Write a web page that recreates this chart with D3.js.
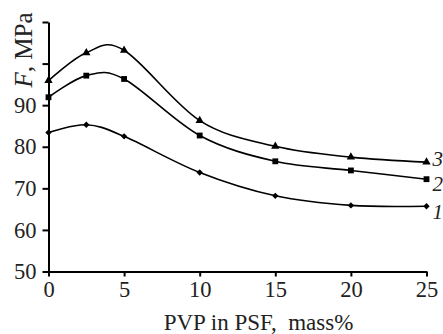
<!DOCTYPE html>
<html>
<head>
<meta charset="utf-8">
<script src="https://cdn.jsdelivr.net/npm/d3@7"></script>
<style>
  body { margin: 0; background: #fff; }
  svg { display: block; }
  svg text { font-family: "Liberation Serif", "DejaVu Serif", serif; fill: #222; }
  .axis path, .axis line { stroke: #000; stroke-width: 2px; }
  .axis text { font-size: 22.5px; }
  .line { fill: none; stroke: #000; stroke-width: 1.6px; }
</style>
</head>
<body>
<div id="chart"></div>
<script>
var pvp = [0, 2.5, 5, 10, 15, 20, 25];
var series1 = [83.4, 85.3, 82.5, 73.8, 68.2, 65.9, 65.7];
var series2 = [91.9, 97.1, 96.3, 82.7, 76.5, 74.3, 72.2];
var series3 = [95.9, 102.6, 103.2, 86.3, 80.1, 77.5, 76.3];
var seriesNames = ["1", "2", "3"];
var xTicks = [0, 5, 10, 15, 20, 25];
var yTicks = [50, 60, 70, 80, 90, 100, 110];

var W = 443, H = 334;
var margin = {top: 22, right: 16.5, bottom: 62.5, left: 48.5};
var width = W - margin.left - margin.right;
var height = H - margin.top - margin.bottom;

var x = d3.scaleLinear().domain([0, 25]).range([0, width]);
var y = d3.scaleLinear().domain([50, 110]).range([height, 0]);

var svg = d3.select("#chart").append("svg")
    .attr("width", W)
    .attr("height", H)
  .append("g")
    .attr("transform", "translate(" + margin.left + "," + margin.top + ")");

// axes
var xAxis = d3.axisBottom(x).tickValues(xTicks).tickSize(5).tickSizeOuter(0).tickPadding(5);
var yAxis = d3.axisLeft(y).tickValues(yTicks).tickSize(6).tickSizeOuter(0).tickPadding(6)
    .tickFormat(function(d) { return d <= 90 ? d : ""; });

svg.append("g")
    .attr("class", "x axis")
    .attr("transform", "translate(0," + height + ")")
    .call(xAxis)
    .attr("font-family", null)
    .selectAll("text").attr("fill", "#222");

svg.append("g")
    .attr("class", "y axis")
    .call(yAxis)
    .attr("font-family", null)
    .selectAll("text").attr("fill", "#222");

// series
var data = [series1, series2, series3].map(function(vals, i) {
  return vals.map(function(v, j) { return {x: pvp[j], y: v, s: i}; });
});

var line = d3.line()
    .curve(d3.curveCardinal.tension(0))
    .x(function(d) { return x(d.x); })
    .y(function(d) { return y(d.y); });

svg.selectAll(".line")
    .data(data)
  .enter().append("path")
    .attr("class", "line")
    .attr("d", line);

var symbols = [
  d3.symbol().type(d3.symbolDiamond2).size(26),
  d3.symbol().type(d3.symbolSquare).size(34),
  d3.symbol().type(d3.symbolTriangle).size(30)
];

data.forEach(function(pts, i) {
  svg.selectAll(".dot" + i)
      .data(pts)
    .enter().append("path")
      .attr("class", "dot" + i)
      .attr("transform", function(d) { return "translate(" + x(d.x) + "," + y(d.y) + ")"; })
      .attr("d", symbols[i])
      .attr("fill", "#000");
});

// series labels at line ends
var labelDy = [13, 12, 4];
data.forEach(function(pts, i) {
  var last = pts[pts.length - 1];
  svg.append("text")
      .attr("x", x(last.x) + 6)
      .attr("y", y(last.y) + labelDy[i])
      .attr("font-size", "21px")
      .attr("font-style", "italic")
      .text(seriesNames[i]);
});

// axis titles
svg.append("text")
    .attr("x", width / 2 + 21)
    .attr("y", height + 58)
    .attr("text-anchor", "middle")
    .attr("font-size", "23px")
    .attr("xml:space", "preserve")
    .style("white-space", "pre")
    .text("PVP in PSF,  mass%");

var yt = svg.append("text")
    .attr("transform", "translate(" + (-16.5) + "," + 28 + ") rotate(-90)")
    .attr("text-anchor", "middle")
    .attr("font-size", "25px");
yt.append("tspan").attr("font-style", "italic").text("F");
yt.append("tspan").text(", MPa");
</script>
</body>
</html>
